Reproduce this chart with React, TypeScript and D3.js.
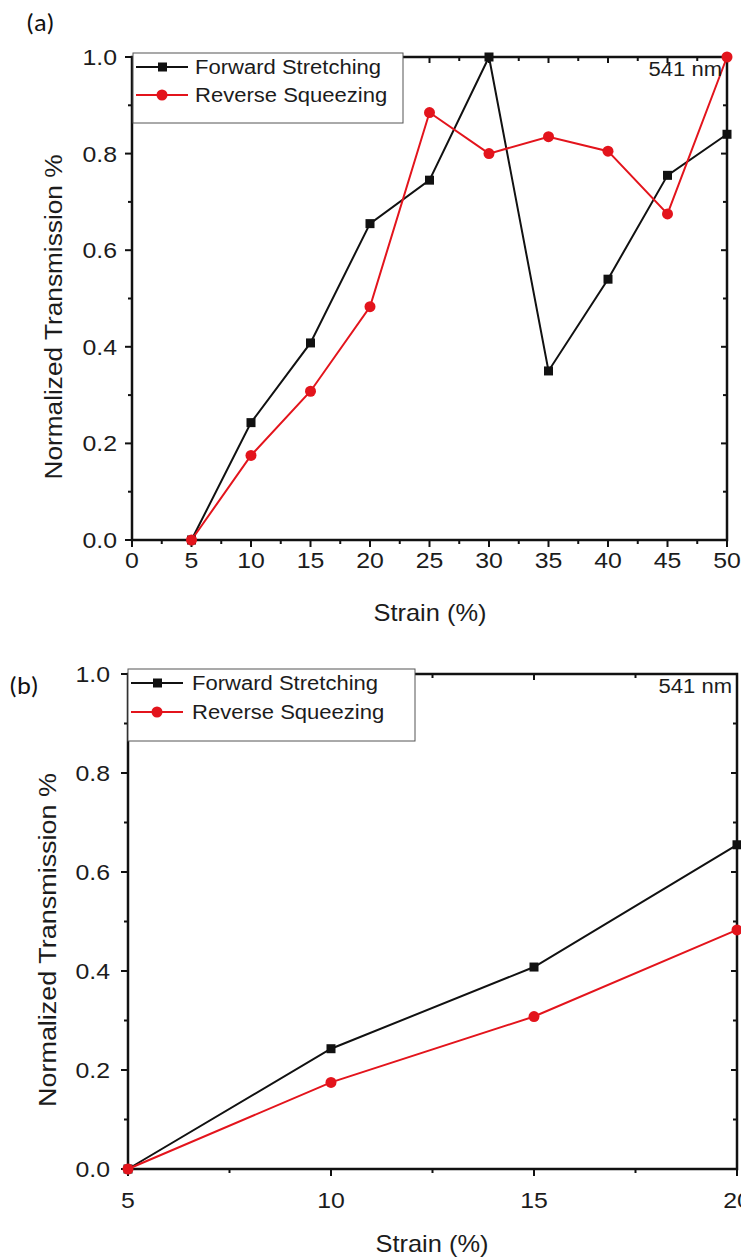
import React, { useEffect, useRef } from 'react'
import * as d3 from 'd3'

// strain (%) and normalized transmission
const strainA = [5, 10, 15, 20, 25, 30, 35, 40, 45, 50]
const forwardA = [0, 0.243, 0.408, 0.655, 0.745, 1.0, 0.35, 0.54, 0.755, 0.84]
const reverseA = [0, 0.175, 0.308, 0.483, 0.885, 0.8, 0.835, 0.805, 0.675, 1.0]

const strainB = [5, 10, 15, 20]
const forwardB = [0, 0.243, 0.408, 0.655]
const reverseB = [0, 0.175, 0.308, 0.483]

const xTicksA = [0, 5, 10, 15, 20, 25, 30, 35, 40, 45, 50]
const xTicksB = [5, 10, 15, 20]
const yTicks = [0, 0.2, 0.4, 0.6, 0.8, 1.0]

const seriesNames = ['Forward Stretching', 'Reverse Squeezing']
const RED = '#e3141c'
const INK = '#1c1c1c'
const FONT = "Arial, 'Liberation Sans', sans-serif"
const SX = 1.13 // the original picture is a bit stretched sideways

const App = () => {
  const ref = useRef(null)

  useEffect(() => {
    const svg = d3.select(ref.current)
    svg.selectAll('*').remove()

    const txt = (g, x, y, s, size, anchor = 'middle', sx = SX) =>
      g
        .append('text')
        .attr('transform', `translate(${x},${y}) scale(${sx},1)`)
        .attr('text-anchor', anchor)
        .attr('font-family', FONT)
        .attr('font-size', size)
        .attr('fill', INK)
        .text(s)

    const panel = (p) => {
      const { left, right, top, bottom, xDomain, xTicks, xMinor, xs, fw, rv } = p
      const g = svg.append('g')
      const x = d3.scaleLinear().domain(xDomain).range([left, right])
      const y = d3.scaleLinear().domain([0, 1]).range([bottom, top])
      const yMinor = d3.range(0.1, 1, 0.2)

      // frame
      g.append('rect')
        .attr('x', left)
        .attr('y', top)
        .attr('width', right - left)
        .attr('height', bottom - top)
        .attr('fill', 'none')
        .attr('stroke', '#111')
        .attr('stroke-width', 2.5)

      const tick = (x1, y1, x2, y2, w = 2) =>
        g.append('line').attr('x1', x1).attr('y1', y1).attr('x2', x2).attr('y2', y2)
          .attr('stroke', '#111').attr('stroke-width', w)

      xTicks.forEach((t) => {
        tick(x(t), bottom, x(t), bottom + 7)
        tick(x(t), top, x(t), top + 6)
        txt(g, x(t), bottom + p.xLabDy, String(t), 22)
      })
      xMinor.forEach((t) => {
        tick(x(t), bottom, x(t), bottom + 4)
        tick(x(t), top, x(t), top + 4)
      })
      yTicks.forEach((t) => {
        tick(left - 7, y(t), left, y(t))
        tick(right - 6, y(t), right, y(t))
        txt(g, left - p.yLabGap, y(t) + 8, t.toFixed(1), 22, 'end')
      })
      yMinor.forEach((t) => {
        tick(left - 4, y(t), left, y(t))
        tick(right - 4, y(t), right, y(t))
      })

      const line = d3.line().x((d) => x(d[0])).y((d) => y(d[1]))
      const fwPts = xs.map((s, i) => [s, fw[i]])
      const rvPts = xs.map((s, i) => [s, rv[i]])

      g.append('path').attr('d', line(fwPts)).attr('fill', 'none').attr('stroke', '#111').attr('stroke-width', 2)
      g.append('path').attr('d', line(rvPts)).attr('fill', 'none').attr('stroke', RED).attr('stroke-width', 2)
      g.selectAll('.sq').data(fwPts).enter().append('rect')
        .attr('x', (d) => x(d[0]) - 4.5).attr('y', (d) => y(d[1]) - 4.5)
        .attr('width', 9).attr('height', 9).attr('fill', '#111')
      g.selectAll('.ci').data(rvPts).enter().append('circle')
        .attr('cx', (d) => x(d[0])).attr('cy', (d) => y(d[1])).attr('r', 5.5).attr('fill', RED)

      // legend
      const lg = p.legend
      g.append('rect').attr('x', lg.x).attr('y', lg.y).attr('width', lg.w).attr('height', lg.h)
        .attr('fill', 'white').attr('stroke', '#555').attr('stroke-width', 1)
      seriesNames.forEach((name, i) => {
        const cy = lg.y + lg.row0 + i * lg.dy
        const c = i === 0 ? '#111' : RED
        g.append('line').attr('x1', lg.x + 3).attr('x2', lg.x + 55).attr('y1', cy).attr('y2', cy)
          .attr('stroke', c).attr('stroke-width', 2)
        if (i === 0) {
          g.append('rect').attr('x', lg.x + 25).attr('y', cy - 4.5).attr('width', 9).attr('height', 9).attr('fill', c)
        } else {
          g.append('circle').attr('cx', lg.x + 29).attr('cy', cy).attr('r', 5.5).attr('fill', c)
        }
        txt(g, lg.x + lg.tx, cy + 7, name, 19.5, 'start')
      })

      txt(g, right - 5, top + 19, '541 nm', 19.5, 'end')
      g.append('text')
        .attr('transform', `translate(${p.title.x},${p.title.y}) rotate(-90)`)
        .attr('text-anchor', 'middle')
        .attr('font-family', FONT)
        .attr('font-size', 23)
        .attr('textLength', p.title.len)
        .attr('lengthAdjust', 'spacingAndGlyphs')
        .attr('fill', INK)
        .text('Normalized Transmission %')
      txt(g, p.xTitle.x, p.xTitle.y, 'Strain (%)', 24, 'middle', 1.06)
      g.append('text')
        .attr('transform', `translate(${p.tag.x},${p.tag.y}) scale(1.05,1)`)
        .attr('font-family', "Carlito, Calibri, 'Open Sans', sans-serif")
        .attr('font-size', 25)
        .attr('fill', '#111')
        .text(p.tag.s)
    }

    panel({
      left: 132, right: 727, top: 57, bottom: 540,
      xDomain: [0, 50], xTicks: xTicksA, xMinor: d3.range(2.5, 50, 5),
      xs: strainA, fw: forwardA, rv: reverseA,
      xLabDy: 28, yLabGap: 15,
      legend: { x: 133, y: 53, w: 270, h: 70, row0: 14, dy: 28, tx: 62 },
      title: { x: 62, y: 317, len: 325 },
      xTitle: { x: 430, y: 621 },
      tag: { x: 26, y: 31, s: '(a)' },
    })
    panel({
      left: 128, right: 737, top: 674, bottom: 1169,
      xDomain: [5, 20], xTicks: xTicksB, xMinor: [7.5, 12.5, 17.5],
      xs: strainB, fw: forwardB, rv: reverseB,
      xLabDy: 39, yLabGap: 18,
      legend: { x: 128, y: 669, w: 287, h: 72, row0: 14, dy: 29, tx: 64 },
      title: { x: 56, y: 940, len: 334 },
      xTitle: { x: 432, y: 1252 },
      tag: { x: 9, y: 694, s: '(b)' },
    })
  }, [])

  return (
    <svg
      ref={ref}
      width={741}
      height={1260}
      style={{ position: 'absolute', left: 0, top: 0, background: 'white' }}
    ></svg>
  )
}

export default App
